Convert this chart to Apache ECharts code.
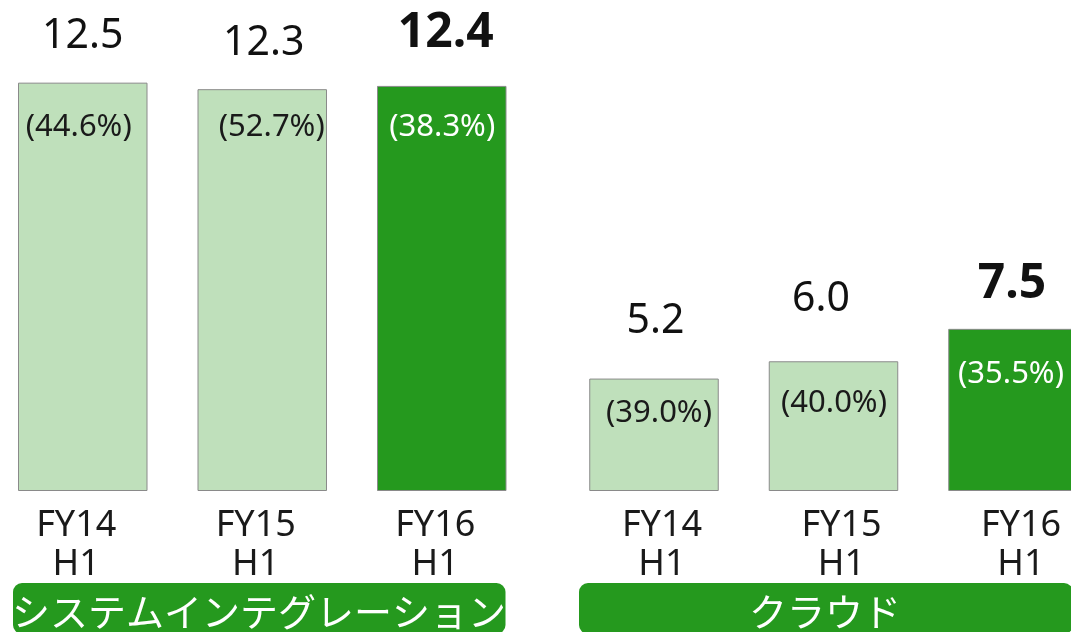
<!DOCTYPE html>
<html>
<head>
<meta charset="utf-8">
<script src="https://cdn.jsdelivr.net/npm/echarts@6/dist/echarts.min.js"></script>
<style>
html,body{margin:0;padding:0;background:#fff;}
#chart{width:1071px;height:632px;}
</style>
</head>
<body>
<div id="chart"></div>
<script>
// ---- data ----
const categories = ['FY14\nH1', 'FY15\nH1', 'FY16\nH1'];
const groups = ['システムインテグレーション', 'クラウド'];
const siValues = [12.5, 12.3, 12.4];
const siShares = [44.6, 52.7, 38.3];
const cloudValues = [5.2, 6.0, 7.5];
const cloudShares = [39.0, 40.0, 35.5];
const highlightIndex = 2;

// ---- style ----
const LIGHT = '#bfe0bb';
const DARK = '#25991e';
const BORDER = '#8a8a8a';
const LATIN = "'Noto Sans', 'Noto Sans CJK JP', sans-serif";
const CJK = "'Noto Sans CJK JP', 'Noto Sans', sans-serif";

// label placement tweaks [dx, dy from bar top]
const valueLabelPos = [
  [[0, -46.5], [1.5, -46], [4, -53]],
  [[1.5, -57], [-12.5, -61.5], [-1, -44.5]]
];
const shareLabelPos = [
  [[-4, 44.5], [9.5, 38], [0.5, 41.5]],
  [[5, 34.5], [0.5, 41.5], [-2, 45.5]]
];

const chart = echarts.init(document.getElementById('chart'));

function makeSeries(g, values, shares) {
  const main = {
    type: 'bar',
    xAxisIndex: g,
    yAxisIndex: g,
    barWidth: 129.5,
    barGap: '-100%',
    silent: true,
    itemStyle: { borderColor: BORDER, borderWidth: 1 },
    label: {
      show: true,
      align: 'center',
      verticalAlign: 'middle',
      color: '#111',
      fontFamily: LATIN,
      formatter: p => p.value.toFixed(1)
    },
    data: values.map((v, i) => ({
      value: v,
      itemStyle: { color: i === highlightIndex ? DARK : LIGHT },
      label: {
        position: ['50%', valueLabelPos[g][i][1]],
        offset: [valueLabelPos[g][i][0], 0],
        fontSize: i === highlightIndex ? 48 : 41,
        fontWeight: i === highlightIndex ? 'bold' : 'normal'
      }
    }))
  };
  const overlay = {
    type: 'bar',
    xAxisIndex: g,
    yAxisIndex: g,
    barWidth: 129.5,
    barGap: '-100%',
    silent: true,
    itemStyle: { color: 'rgba(0,0,0,0)' },
    label: {
      show: true,
      align: 'center',
      verticalAlign: 'middle',
      fontFamily: LATIN,
      fontSize: 31,
      formatter: p => '(' + shares[p.dataIndex].toFixed(1) + '%)'
    },
    data: values.map((v, i) => ({
      value: v,
      label: {
        position: ['50%', shareLabelPos[g][i][1]],
        offset: [shareLabelPos[g][i][0], 0],
        color: i === highlightIndex ? '#ffffff' : '#1a1a1a'
      }
    }))
  };
  return [main, overlay];
}

function makeXAxis(g, pad) {
  return {
    type: 'category',
    gridIndex: g,
    data: categories,
    boundaryGap: true,
    axisLine: { show: false },
    axisTick: { show: false },
    axisLabel: {
      margin: 15,
      fontFamily: LATIN,
      fontSize: 36,
      lineHeight: 39,
      color: '#1a1a1a',
      padding: pad
    }
  };
}

const option = {
  animation: false,
  backgroundColor: '#ffffff',
  grid: [
    { left: -7, width: 538.5, top: 0, bottom: 141, outerBoundsMode: 'none', containLabel: false },
    { left: 564.25, width: 538.5, top: 0, bottom: 141, outerBoundsMode: 'none', containLabel: false }
  ],
  xAxis: [makeXAxis(0, [0, 13, 0, 0]), makeXAxis(1, [0, 0, 0, 16])],
  yAxis: [
    { type: 'value', gridIndex: 0, min: 0, max: 15.03, show: false, splitLine: { show: false } },
    { type: 'value', gridIndex: 1, min: 0, max: 22.71, show: false, splitLine: { show: false } }
  ],
  series: [].concat(makeSeries(0, siValues, siShares), makeSeries(1, cloudValues, cloudShares)),
  graphic: [
    {
      type: 'rect', left: 13, top: 583, z: 10,
      shape: { width: 492.5, height: 51, r: 9 },
      style: { fill: DARK }
    },
    {
      type: 'text', x: 259, y: 612, z: 11,
      style: { text: groups[0], fill: '#fff', font: "38px " + CJK, align: 'center', verticalAlign: 'middle' }
    },
    {
      type: 'rect', left: 579, top: 583, z: 10,
      shape: { width: 494, height: 51, r: 9 },
      style: { fill: DARK }
    },
    {
      type: 'text', x: 825, y: 612, z: 11,
      style: { text: groups[1], fill: '#fff', font: "38px " + CJK, align: 'center', verticalAlign: 'middle' }
    }
  ]
};
chart.setOption(option);
</script>
</body>
</html>
